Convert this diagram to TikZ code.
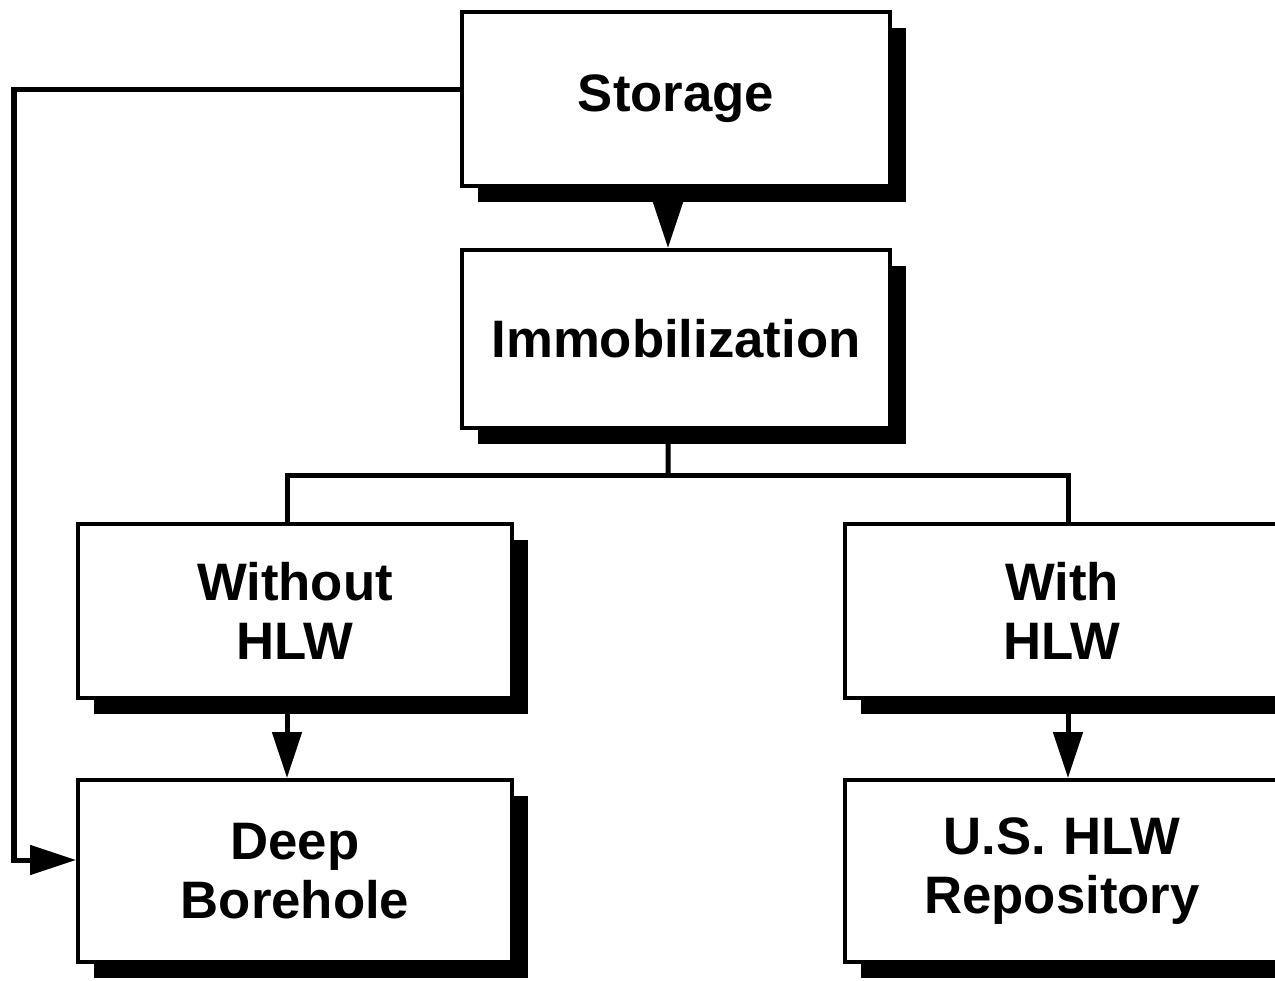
\documentclass[tikz,border=0pt]{standalone}
\usepackage{fontspec}
\setmainfont{Liberation Sans}
\usetikzlibrary{arrows.meta,shadows}
\begin{document}
\begin{tikzpicture}[
	stage/.style={rectangle, draw=black, line width=0.08cm, fill=white, align=center,
		font=\fontsize{30}{34}\selectfont\bfseries, text width=8cm,
		drop shadow={shadow xshift=0.32cm, shadow yshift=-0.32cm, fill=black, opacity=1}},
	link/.style={line width=0.1cm},
	flow/.style={link, -{Triangle[length=0.92cm, width=0.58cm]}}]
	\useasboundingbox (0, 0) rectangle (25.5, -19.6);

	\node[stage, minimum width=8.56cm, minimum height=3.48cm] (storage) at (13.52, -1.98) {Storage};
	\node[stage, minimum width=8.56cm, minimum height=3.56cm] (immob) at (13.52, -6.78) {Immobilization};

	\node[stage, minimum width=8.68cm, minimum height=3.48cm] (without) at (5.9, -12.22) {Without\\HLW};
	\node[stage, minimum width=8.68cm, minimum height=3.48cm] (with) at (21.24, -12.22) {With\\HLW};

	\node[stage, minimum width=8.68cm, minimum height=3.64cm] (deep) at (5.9, -17.42) {Deep\\Borehole};
	\node[stage, minimum width=8.68cm, minimum height=3.64cm] (repo) at (21.24, -17.42) {U.S. HLW\\Repository};

	\coordinate (bus) at (13.36, -9.5);

	\draw[flow] ([xshift=-0.16cm]storage.south) -- ([xshift=-0.16cm]immob.north);
	\draw[link] ([xshift=-0.16cm]immob.south) -- (bus);
	\draw[link] ([xshift=-0.16cm]without.north) |- (bus) -| ([xshift=0.12cm]with.north);
	\draw[flow] ([xshift=-0.16cm]without.south) -- ([xshift=-0.16cm]deep.north);
	\draw[flow] ([xshift=0.12cm]with.south) -- ([xshift=0.12cm]repo.north);

	\draw[flow] ([yshift=0.2cm]storage.west) -| (0.28, -17.2) -- ([yshift=0.22cm]deep.west);
\end{tikzpicture}
\end{document}
